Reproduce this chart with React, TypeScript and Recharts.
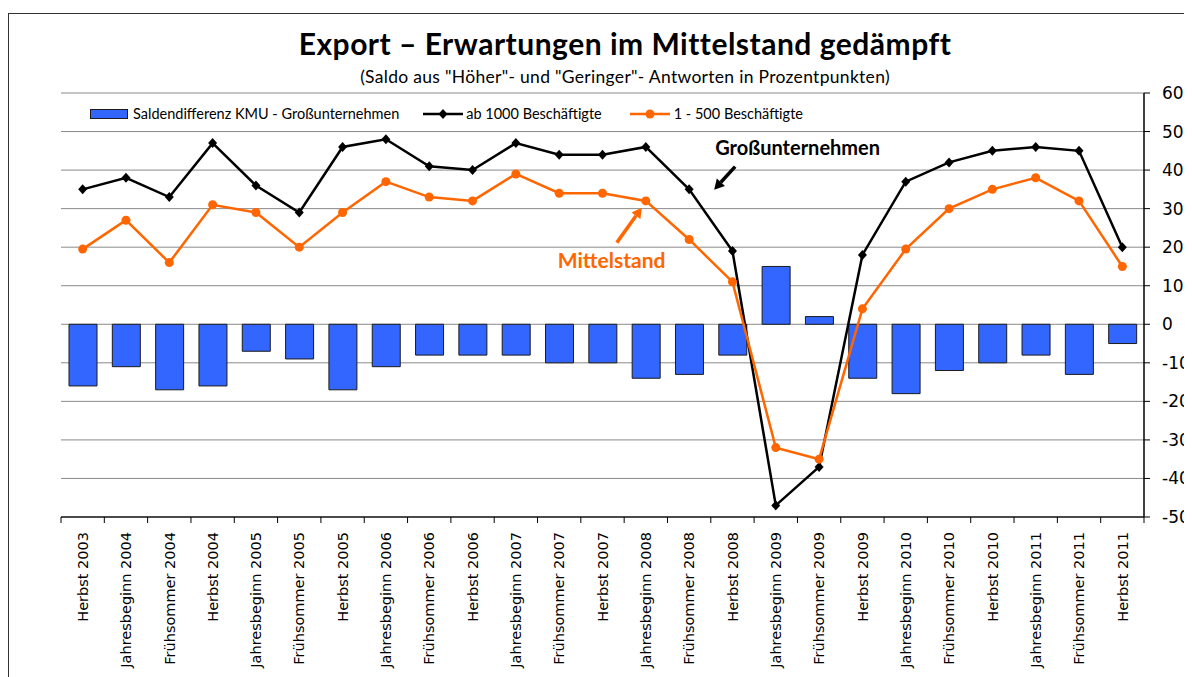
import React from 'react';
import {
  ComposedChart, Bar, Line, XAxis, YAxis, CartesianGrid, Legend, ReferenceDot
} from 'recharts';

// Umfragezeitpunkte
const categories = [
  'Herbst 2003', 'Jahresbeginn 2004', 'Frühsommer 2004', 'Herbst 2004',
  'Jahresbeginn 2005', 'Frühsommer 2005', 'Herbst 2005', 'Jahresbeginn 2006',
  'Frühsommer 2006', 'Herbst 2006', 'Jahresbeginn 2007', 'Frühsommer 2007',
  'Herbst 2007', 'Jahresbeginn 2008', 'Frühsommer 2008', 'Herbst 2008',
  'Jahresbeginn 2009', 'Frühsommer 2009', 'Herbst 2009', 'Jahresbeginn 2010',
  'Frühsommer 2010', 'Herbst 2010', 'Jahresbeginn 2011', 'Frühsommer 2011',
  'Herbst 2011',
];

// Saldendifferenz KMU - Großunternehmen
const saldendifferenz = [
  -16, -11, -17, -16, -7, -9, -17, -11, -8, -8, -8, -10, -10,
  -14, -13, -8, 15, 2, -14, -18, -12, -10, -8, -13, -5,
];

// ab 1000 Beschäftigte
const grossunternehmen = [
  35, 38, 33, 47, 36, 29, 46, 48, 41, 40, 47, 44, 44,
  46, 35, 19, -47, -37, 18, 37, 42, 45, 46, 45, 20,
];

// 1 - 500 Beschäftigte
const mittelstand = [
  19.5, 27, 16, 31, 29, 20, 29, 37, 33, 32, 39, 34, 34,
  32, 22, 11, -32, -35, 4, 19.5, 30, 35, 38, 32, 15,
];

const yTicks = [60, 50, 40, 30, 20, 10, 0, -10, -20, -30, -40, -50];

const data = categories.map((name, i) => ({
  name,
  diff: saldendifferenz[i],
  gross: grossunternehmen[i],
  mittel: mittelstand[i],
}));

const BLUE = '#3366FF';
const ORANGE = '#FF6600';
const LABEL_FONT = 'Lato, "Open Sans", sans-serif';
const AXIS_FONT = '"DejaVu Sans", Verdana, sans-serif';

const CHART_W = 1184;
const CHART_H = 669;
const MARGIN = { top: 85, right: 0, left: 53, bottom: 0 };
const Y_AXIS_W = 48;
const HALF_BAND = (CHART_W - MARGIN.left - Y_AXIS_W) / categories.length / 2;

const Diamond = (props: any) => {
  const { cx, cy } = props;
  if (cx == null || cy == null) return null;
  return (
    <polygon
      points={`${cx},${cy - 5} ${cx + 4.5},${cy} ${cx},${cy + 5} ${cx - 4.5},${cy}`}
      fill="#000"
    />
  );
};

const CategoryTick = (props: any) => {
  const { x, y, payload, index } = props;
  const top = y - 6;
  const last = index === categories.length - 1;
  return (
    <g>
      <line x1={x - HALF_BAND} y1={top} x2={x - HALF_BAND} y2={top + 6} stroke="#000" />
      {last && <line x1={x + HALF_BAND} y1={top} x2={x + HALF_BAND} y2={top + 6} stroke="#000" />}
      <text
        x={x}
        y={top + 15}
        transform={`rotate(-90, ${x}, ${top + 15})`}
        textAnchor="end"
        dy="0.36em"
        fontFamily={AXIS_FONT}
        fontSize={14.5}
        fill="#000"
      >
        {payload.value}
      </text>
    </g>
  );
};

const Arrow = ({ x1, y1, x2, y2, color }: any) => {
  const ang = Math.atan2(y2 - y1, x2 - x1);
  const len = 10;
  const w = 5.5;
  const bx = x2 - len * Math.cos(ang);
  const by = y2 - len * Math.sin(ang);
  const px = -Math.sin(ang) * w;
  const py = Math.cos(ang) * w;
  return (
    <g>
      <line x1={x1} y1={y1} x2={bx} y2={by} stroke={color} strokeWidth={3.5} />
      <polygon points={`${x2},${y2} ${bx + px},${by + py} ${bx - px},${by - py}`} fill={color} />
    </g>
  );
};

const GrossNote = (props: any) => {
  const { cx, cy } = props;
  return (
    <g>
      <text x={cx + 26} y={cy - 54} fontFamily={LABEL_FONT} fontWeight="bold" fontSize={20} fill="#000">
        Großunternehmen
      </text>
      <Arrow x1={cx + 46} y1={cy - 42} x2={cx + 25} y2={cy - 19} color="#000" />
    </g>
  );
};

const MittelNote = (props: any) => {
  const { cx, cy } = props;
  return (
    <g>
      <text x={cx - 88} y={cy + 59} fontFamily={LABEL_FONT} fontWeight="bold" fontSize={21} fill={ORANGE}>
        Mittelstand
      </text>
      <Arrow x1={cx - 29} y1={cy + 34} x2={cx - 4} y2={cy - 1} color={ORANGE} />
    </g>
  );
};

const renderLegend = () => (
  <div style={{
    display: 'flex', alignItems: 'center', fontFamily: LABEL_FONT, fontSize: 14.5,
    color: '#000', whiteSpace: 'nowrap', lineHeight: '17px',
  }}>
    <span style={{ display: 'inline-block', width: 36, height: 8, background: BLUE, border: '1px solid #1b1b1b', marginRight: 5 }} />
    <span>Saldendifferenz KMU - Großunternehmen</span>
    <svg width={40} height={12} style={{ marginLeft: 24, marginRight: 3 }}>
      <line x1={0} y1={6} x2={40} y2={6} stroke="#000" strokeWidth={2.5} />
      <Diamond cx={20} cy={6} />
    </svg>
    <span>ab 1000 Beschäftigte</span>
    <svg width={40} height={12} style={{ marginLeft: 28, marginRight: 4 }}>
      <line x1={0} y1={6} x2={40} y2={6} stroke={ORANGE} strokeWidth={2.5} />
      <circle cx={20} cy={6} r={4.5} fill={ORANGE} />
    </svg>
    <span>1 - 500 Beschäftigte</span>
  </div>
);

export default function App() {
  return (
    <div style={{ position: 'relative', width: CHART_W, height: CHART_H }}>
      <style>{'html, body { overflow: hidden; }'}</style>
      <div style={{
        position: 'absolute', top: 5, left: 0, width: CHART_W, height: CHART_H - 5,
        borderTop: '1.5px solid #333', borderLeft: '1.5px solid #333', boxSizing: 'border-box',
      }} />
      <div style={{
        position: 'absolute', top: 20, left: 617, transform: 'translateX(-50%)', whiteSpace: 'nowrap',
        fontFamily: LABEL_FONT, fontWeight: 'bold', fontSize: 30, letterSpacing: 0.5,
        lineHeight: '30px', color: '#000',
      }}>
        Export – Erwartungen im Mittelstand gedämpft
      </div>
      <div style={{
        position: 'absolute', top: 60, left: 617, transform: 'translateX(-50%)', whiteSpace: 'nowrap',
        fontFamily: LABEL_FONT, fontSize: 17.5, letterSpacing: 0.3, lineHeight: '17px', color: '#000',
      }}>
        (Saldo aus "Höher"- und "Geringer"- Antworten in Prozentpunkten)
      </div>
      <div style={{ position: 'absolute', top: 0, left: 0 }}>
        <ComposedChart width={CHART_W} height={CHART_H} data={data} margin={MARGIN}>
          <CartesianGrid vertical={false} stroke="#8a8a8a" strokeWidth={1} />
          <XAxis
            dataKey="name"
            interval={0}
            height={160}
            tickLine={false}
            tickSize={6}
            tickMargin={0}
            axisLine={{ stroke: '#222', strokeWidth: 1.5 }}
            tick={<CategoryTick />}
          />
          <YAxis
            orientation="right"
            domain={[-50, 60]}
            ticks={yTicks}
            interval={0}
            width={Y_AXIS_W}
            tickSize={6}
            tickMargin={12}
            axisLine={{ stroke: '#000', strokeWidth: 1.5 }}
            tickLine={{ stroke: '#000' }}
            tick={{ fill: '#000', fontSize: 17, fontFamily: AXIS_FONT, textAnchor: 'start' }}
          />
          <YAxis
            yAxisId="left"
            orientation="left"
            domain={[-50, 60]}
            width={0}
            tick={false}
            tickLine={false}
            axisLine={{ stroke: '#444', strokeWidth: 1.5 }}
          />
          <Legend
            content={renderLegend}
            layout="horizontal"
            verticalAlign="middle"
            align="center"
            wrapperStyle={{ top: 97, left: 82, width: 'auto', height: 'auto' }}
          />
          <Bar
            dataKey="diff"
            name="Saldendifferenz KMU - Großunternehmen"
            fill={BLUE}
            stroke="#1b1b1b"
            strokeWidth={1}
            barSize={28}
            isAnimationActive={false}
          />
          <Line
            type="linear"
            dataKey="gross"
            name="ab 1000 Beschäftigte"
            stroke="#000"
            strokeWidth={2.5}
            dot={<Diamond />}
            activeDot={false}
            isAnimationActive={false}
          />
          <Line
            type="linear"
            dataKey="mittel"
            name="1 - 500 Beschäftigte"
            stroke={ORANGE}
            strokeWidth={2.5}
            dot={{ r: 4.5, fill: ORANGE, stroke: ORANGE, strokeWidth: 0 }}
            activeDot={false}
            isAnimationActive={false}
          />
          <ReferenceDot x="Frühsommer 2008" y={30} r={0} ifOverflow="visible" shape={(p: any) => <GrossNote {...p} />} />
          <ReferenceDot x="Jahresbeginn 2008" y={30} r={0} ifOverflow="visible" shape={(p: any) => <MittelNote {...p} />} />
        </ComposedChart>
      </div>
    </div>
  );
}
